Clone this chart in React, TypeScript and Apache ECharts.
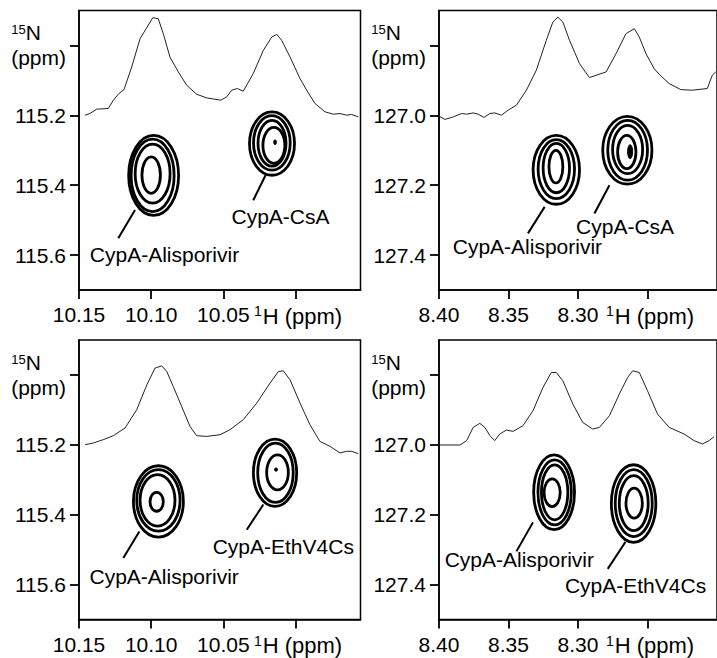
import React, { useEffect, useRef } from "react";
import * as echarts from "echarts";

const FONT = '"Liberation Sans", Arial, Helvetica, sans-serif';

// ---- axis ranges and ticks ----
const xRangeLeft = [9.955, 10.15];
const xRangeRight = [8.2, 8.4];
const yRangeLeft = [114.9, 115.7];
const yRangeRight = [126.7, 127.5];
const xTicksLeft = [10.15, 10.1, 10.05, 10.0];
const xTicksRight = [8.4, 8.35, 8.3, 8.25];
const yTicksLeft = [115.0, 115.2, 115.4, 115.6];
const yTicksRight = [126.8, 127.0, 127.2, 127.4];
const xTitleTickLeft = 10.0;
const xTitleTickRight = 8.25;
const yTitleTickLeft = 115.0;
const yTitleTickRight = 126.8;
const intensityRange = [-1.76, 1.07];

// ---- 1D traces: [1H ppm, relative intensity] ----
const tlTrace = [
  [10.1458, 0.01], [10.1424, 0.027], [10.1377, 0.071], [10.1297, 0.078], [10.1262, 0.162],
  [10.1228, 0.222], [10.1188, 0.27], [10.1135, 0.498], [10.1077, 0.785], [10.1031, 0.895],
  [10.0989, 0.997], [10.0951, 0.987], [10.0916, 0.835], [10.087, 0.599], [10.0812, 0.448],
  [10.0754, 0.313], [10.0685, 0.222], [10.0615, 0.185], [10.0518, 0.162], [10.0477, 0.195],
  [10.0442, 0.263], [10.0403, 0.28], [10.0362, 0.253], [10.0293, 0.432], [10.0223, 0.667],
  [10.0165, 0.801], [10.013, 0.828], [10.0096, 0.768], [10.0038, 0.599], [9.9969, 0.381],
  [9.9923, 0.263], [9.9865, 0.128], [9.9796, 0.044], [9.9738, 0.02], [9.9692, 0.027],
  [9.9646, 0.01], [9.9611, 0.017], [9.9565, -0.007],
];
const trTrace = [
  [8.4, 0], [8.3957, -0.033], [8.3897, -0.007], [8.3837, 0.027], [8.3801, 0.02],
  [8.3754, 0.033], [8.3718, 0.02], [8.3677, -0.013], [8.3634, 0.027], [8.3599, 0.033],
  [8.3551, 0.01], [8.3503, 0.061], [8.3443, 0.111], [8.3371, 0.263], [8.33, 0.465],
  [8.3228, 0.768], [8.3181, 0.953], [8.3145, 1.003], [8.3109, 0.953], [8.3061, 0.768],
  [8.2989, 0.532], [8.2918, 0.391], [8.2798, 0.448], [8.2726, 0.633], [8.2655, 0.835],
  [8.2595, 0.886], [8.2559, 0.801], [8.2511, 0.633], [8.2452, 0.481], [8.2416, 0.424],
  [8.2344, 0.33], [8.226, 0.269], [8.2177, 0.263], [8.207, 0.28], [8.2034, 0.414],
  [8.2009, 0.448],
];
const blTrace = [
  [10.1458, 0.01], [10.1401, 0.027], [10.1332, 0.061], [10.1262, 0.101], [10.1181, 0.179],
  [10.11, 0.364], [10.103, 0.616], [10.0974, 0.785], [10.0927, 0.808], [10.0892, 0.751],
  [10.0847, 0.599], [10.0789, 0.397], [10.0731, 0.195], [10.0685, 0.101], [10.0615, 0.094],
  [10.0523, 0.111], [10.0454, 0.162], [10.0362, 0.263], [10.0269, 0.431], [10.0177, 0.633],
  [10.0119, 0.751], [10.0085, 0.758], [10.0038, 0.667], [9.9969, 0.431], [9.99, 0.212],
  [9.9831, 0.043], [9.9761, -0.007], [9.9692, -0.074], [9.9646, -0.057], [9.9611, -0.057],
  [9.9565, -0.081],
];
const brTrace = [
  [8.4, 0.007], [8.3849, 0.007], [8.3801, 0.051], [8.3754, 0.185], [8.3706, 0.226],
  [8.367, 0.185], [8.3634, 0.101], [8.3599, 0.051], [8.3563, 0.118], [8.3515, 0.158],
  [8.3467, 0.145], [8.3396, 0.202], [8.3324, 0.354], [8.3252, 0.589], [8.3192, 0.741],
  [8.3156, 0.741], [8.3109, 0.657], [8.3037, 0.421], [8.2966, 0.235], [8.2894, 0.168],
  [8.2846, 0.185], [8.2774, 0.303], [8.2703, 0.522], [8.2643, 0.69], [8.2607, 0.758],
  [8.2559, 0.741], [8.25, 0.556], [8.2428, 0.32], [8.2344, 0.185], [8.2237, 0.118],
  [8.2165, 0.051], [8.2105, 0.017], [8.2057, 0.051], [8.2022, 0.091],
];

// ---- contour levels: [1H centre, 15N centre, 1H half-width, 15N half-height, filled] ----
const tlContours = [
  [10.0983, 115.372, 0.0173, 0.1144, 0],
  [10.099, 115.372, 0.0149, 0.1037, 0],
  [10.099, 115.367, 0.0121, 0.0843, 0],
  [10.1, 115.371, 0.0064, 0.0523, 0],
  [10.0163, 115.281, 0.0156, 0.0906, 0],
  [10.0164, 115.279, 0.0127, 0.078, 0],
  [10.0163, 115.28, 0.0097, 0.0657, 0],
  [10.015, 115.286, 0.0076, 0.0514, 0],
  [10.0142, 115.277, 0.0009, 0.007, 1],
];
const trContours = [
  [8.3156, 127.156, 0.0167, 0.0986, 0],
  [8.3156, 127.154, 0.0131, 0.0843, 0],
  [8.3156, 127.151, 0.0095, 0.0706, 0],
  [8.3159, 127.147, 0.005, 0.0466, 0],
  [8.2645, 127.1, 0.0177, 0.0971, 0],
  [8.2643, 127.1, 0.0143, 0.0857, 0],
  [8.2643, 127.098, 0.0108, 0.0691, 0],
  [8.2649, 127.105, 0.0066, 0.0477, 0],
  [8.2625, 127.104, 0.0018, 0.02, 1],
];
const blContours = [
  [10.095, 115.362, 0.0173, 0.102, 0],
  [10.095, 115.359, 0.015, 0.088, 0],
  [10.0956, 115.359, 0.0121, 0.0737, 0],
  [10.0962, 115.363, 0.0046, 0.0271, 0],
  [10.0142, 115.28, 0.015, 0.0963, 0],
  [10.0139, 115.28, 0.0123, 0.0849, 0],
  [10.0125, 115.279, 0.0075, 0.05, 0],
  [10.0135, 115.271, 0.0011, 0.0045, 1],
];
const brContours = [
  [8.3172, 127.136, 0.0147, 0.107, 0],
  [8.3168, 127.136, 0.012, 0.0929, 0],
  [8.3168, 127.136, 0.0095, 0.0786, 0],
  [8.3186, 127.137, 0.0058, 0.0397, 0],
  [8.26, 127.168, 0.016, 0.111, 0],
  [8.2599, 127.167, 0.0133, 0.0957, 0],
  [8.2599, 127.167, 0.0104, 0.0786, 0],
  [8.2596, 127.167, 0.0059, 0.0429, 0],
];

// ---- peak annotations: names and [text x, text y, line x1, y1, x2, y2] ----
const tlLabelNames = ["CypA-Alisporivir", "CypA-CsA"];
const tlLabelPos = [
  [10.0908, 115.597, 10.1228, 115.552, 10.1112, 115.471],
  [10.0104, 115.491, 10.0293, 115.443, 10.0207, 115.371],
];
const trLabelNames = ["CypA-Alisporivir", "CypA-CsA"];
const trLabelPos = [
  [8.3364, 127.376, 8.336, 127.338, 8.324, 127.262],
  [8.2661, 127.319, 8.2882, 127.281, 8.2774, 127.2],
];
const blLabelNames = ["CypA-Alisporivir", "CypA-EthV4Cs"];
const blLabelPos = [
  [10.091, 115.576, 10.1193, 115.524, 10.1082, 115.448],
  [10.0085, 115.491, 10.0338, 115.443, 10.0223, 115.371],
];
const brLabelNames = ["CypA-Alisporivir", "CypA-EthV4Cs"];
const brLabelPos = [
  [8.3422, 127.329, 8.3443, 127.305, 8.3324, 127.222],
  [8.2586, 127.403, 8.2786, 127.355, 8.2659, 127.278],
];

// ---- layout ----
const GRIDS = [
  { left: 79, top: 10.5, width: 281.5, height: 279.5 },
  { left: 439, top: 10.5, width: 279, height: 279.5 },
  { left: 79, top: 340, width: 281.5, height: 279.5 },
  { left: 439, top: 340, width: 279, height: 279.5 },
];
const TICK_LEN = 9;

const panels = [
  { xRange: xRangeLeft, yRange: yRangeLeft, xTicks: xTicksLeft, yTicks: yTicksLeft, xTitle: xTitleTickLeft, yTitle: yTitleTickLeft, trace: tlTrace, contours: tlContours, labelNames: tlLabelNames, labelPos: tlLabelPos },
  { xRange: xRangeRight, yRange: yRangeRight, xTicks: xTicksRight, yTicks: yTicksRight, xTitle: xTitleTickRight, yTitle: yTitleTickRight, trace: trTrace, contours: trContours, labelNames: trLabelNames, labelPos: trLabelPos },
  { xRange: xRangeLeft, yRange: yRangeLeft, xTicks: xTicksLeft, yTicks: yTicksLeft, xTitle: xTitleTickLeft, yTitle: yTitleTickLeft, trace: blTrace, contours: blContours, labelNames: blLabelNames, labelPos: blLabelPos },
  { xRange: xRangeRight, yRange: yRangeRight, xTicks: xTicksRight, yTicks: yTicksRight, xTitle: xTitleTickRight, yTitle: yTitleTickRight, trace: brTrace, contours: brContours, labelNames: brLabelNames, labelPos: brLabelPos },
];

const FS = 21;

function buildOption() {
  const grid = GRIDS.map((g) => ({
    ...g,
    show: true,
    borderColor: "#000",
    borderWidth: 1.5,
  }));

  const xAxis = panels.map((p, i) => ({
    type: "value",
    gridIndex: i,
    min: p.xRange[0],
    max: p.xRange[1],
    inverse: true,
    position: "bottom",
    splitLine: { show: false },
    axisLine: { show: true, onZero: false, lineStyle: { color: "#000", width: 1.5 } },
    axisTick: {
      show: true,
      inside: false,
      length: TICK_LEN,
      customValues: p.xTicks,
      lineStyle: { color: "#000", width: 1.8 },
    },
    axisLabel: {
      show: true,
      customValues: p.xTicks,
      margin: 14,
      color: "#000",
      fontSize: FS,
      fontFamily: FONT,
      formatter: (v: number) =>
        Math.abs(v - p.xTitle) < 1e-6 ? "{s|1}{t|H (ppm)}" : v.toFixed(2),
      rich: {
        s: { fontSize: 14, fontFamily: FONT, color: "#000", verticalAlign: "top", padding: [0, 1, 0, 5] },
        t: { fontSize: 22, fontFamily: FONT, color: "#000", lineHeight: 24 },
      },
    },
  }));

  const yAxis: any[] = [];
  panels.forEach((p, i) => {
    yAxis.push({
      type: "value",
      gridIndex: i,
      min: p.yRange[0],
      max: p.yRange[1],
      inverse: true,
      position: "left",
      splitLine: { show: false },
      axisLine: { show: true, onZero: false, lineStyle: { color: "#000", width: 1.5 } },
      axisTick: {
        show: true,
        inside: false,
        length: TICK_LEN,
        customValues: p.yTicks,
        lineStyle: { color: "#000", width: 1.8 },
      },
      axisLabel: {
        show: true,
        customValues: p.yTicks,
        margin: 13,
        color: "#000",
        fontSize: FS,
        fontFamily: FONT,
        formatter: (v: number) =>
          Math.abs(v - p.yTitle) < 1e-6 ? "{s|15}{n|N}\n{p|(ppm)}" : v.toFixed(1),
        rich: {
          s: { fontSize: 13, fontFamily: FONT, color: "#000", align: "left", verticalAlign: "top", padding: [3, 0, 0, 0] },
          n: { fontSize: FS, fontFamily: FONT, color: "#000", align: "left", lineHeight: 25 },
          p: { fontSize: FS, fontFamily: FONT, color: "#000", lineHeight: 25 },
        },
      },
    });
    yAxis.push({
      type: "value",
      gridIndex: i,
      min: intensityRange[0],
      max: intensityRange[1],
      show: false,
      axisLine: { onZero: false },
    });
  });

  const series: any[] = [];
  panels.forEach((p, i) => {
    series.push({
      type: "line",
      xAxisIndex: i,
      yAxisIndex: 2 * i + 1,
      data: p.trace,
      showSymbol: false,
      symbol: "none",
      silent: true,
      clip: false,
      lineStyle: { color: "#222", width: 1 },
    });
    series.push({
      type: "custom",
      coordinateSystem: "cartesian2d",
      xAxisIndex: i,
      yAxisIndex: 2 * i,
      data: p.contours,
      silent: true,
      clip: false,
      renderItem: (params: any, api: any) => {
        const cx = api.value(0);
        const cy = api.value(1);
        const c = api.coord([cx, cy]);
        const s = api.size([api.value(2), api.value(3)], [cx, cy]);
        const filled = api.value(4) === 1;
        return {
          type: "ellipse",
          shape: { cx: c[0], cy: c[1], rx: s[0], ry: s[1] },
          style: {
            fill: filled ? "#000" : "none",
            stroke: "#000",
            lineWidth: filled ? 1 : 2.8,
          },
        };
      },
    });
    series.push({
      type: "custom",
      coordinateSystem: "cartesian2d",
      xAxisIndex: i,
      yAxisIndex: 2 * i,
      data: p.labelPos,
      silent: true,
      clip: false,
      renderItem: (params: any, api: any) => {
        const t = api.coord([api.value(0), api.value(1)]);
        const a = api.coord([api.value(2), api.value(3)]);
        const b = api.coord([api.value(4), api.value(5)]);
        return {
          type: "group",
          children: [
            {
              type: "line",
              shape: { x1: a[0], y1: a[1], x2: b[0], y2: b[1] },
              style: { stroke: "#000", lineWidth: 2 },
            },
            {
              type: "text",
              x: t[0],
              y: t[1],
              style: {
                text: p.labelNames[params.dataIndex],
                fontSize: FS,
                fontFamily: FONT,
                fill: "#000",
                align: "center",
                verticalAlign: "middle",
              },
            },
          ],
        };
      },
    });
  });

  return {
    animation: false,
    grid,
    xAxis,
    yAxis,
    series,
  };
}

export default function App() {
  const ref = useRef<HTMLDivElement>(null);
  useEffect(() => {
    if (!ref.current) return;
    const chart = echarts.init(ref.current, undefined, { renderer: "svg" });
    chart.setOption(buildOption() as any);
    return () => chart.dispose();
  }, []);
  return (
    <div
      ref={ref}
      style={{ position: "absolute", left: 0, top: 0, width: 717, height: 658, background: "#fff" }}
    />
  );
}
